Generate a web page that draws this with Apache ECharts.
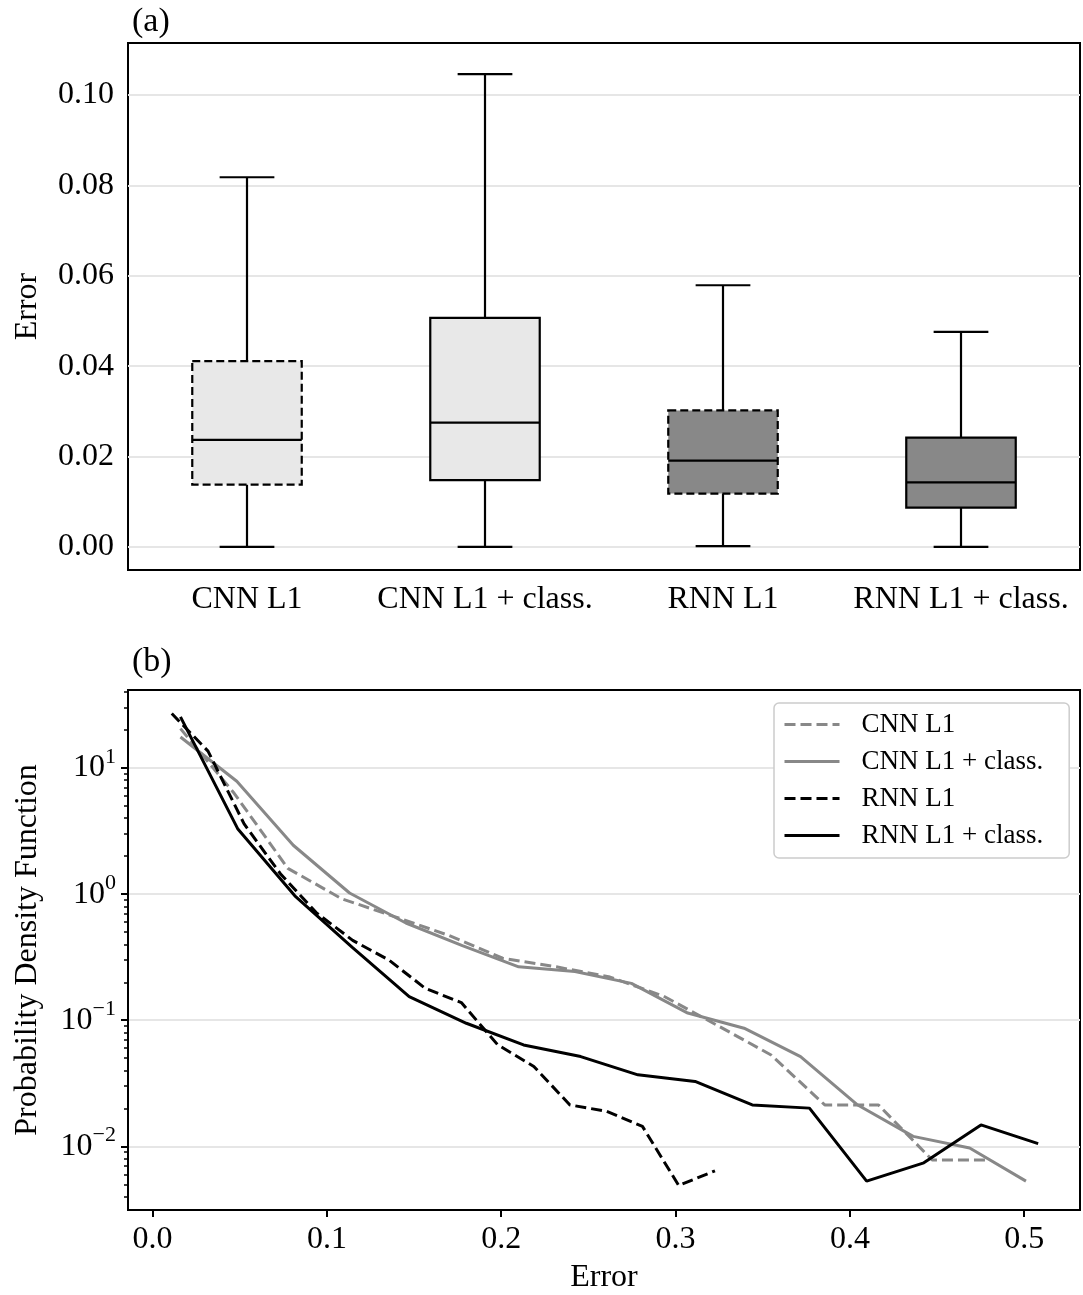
<!DOCTYPE html>
<html><head><meta charset="utf-8">
<script src="https://cdn.jsdelivr.net/npm/echarts@6/dist/echarts.min.js"></script>
<style>html,body{margin:0;padding:0;background:#fff}#c{width:1083px;height:1295px}</style>
</head><body><div id="c"></div>
<script>
// ---- panel (a): box plot statistics ----
const categories = ['CNN L1', 'CNN L1 + class.', 'RNN L1', 'RNN L1 + class.'];
const boxMin    = [0.0,    0.0,    0.0002, 0.0];
const boxQ1     = [0.0138, 0.0148, 0.0118, 0.0087];
const boxMedian = [0.0237, 0.0275, 0.0191, 0.0143];
const boxQ3     = [0.0411, 0.0507, 0.0302, 0.0242];
const boxMax    = [0.0818, 0.1046, 0.0579, 0.0476];
const topYTicks = [0, 0.02, 0.04, 0.06, 0.08, 0.10];

// ---- panel (b): probability density functions ----
const cnnX = [0.016, 0.0468, 0.0776, 0.1084, 0.1392, 0.17, 0.2008, 0.2316, 0.2624, 0.2932, 0.324, 0.3548, 0.3856, 0.4164, 0.4472, 0.478];
const cnnY = [20.5, 6.3, 1.6, 0.92, 0.66, 0.47, 0.31, 0.265, 0.22, 0.155, 0.091, 0.053, 0.0213, 0.0213, 0.0078, 0.0078];
const cnnClsX = [0.016, 0.0483, 0.0807, 0.113, 0.1453, 0.1777, 0.21, 0.2423, 0.2747, 0.307, 0.3393, 0.3717, 0.404, 0.4363, 0.4687, 0.501];
const cnnClsY = [17.6, 7.85, 2.44, 1.02, 0.59, 0.39, 0.265, 0.243, 0.196, 0.114, 0.0865, 0.0515, 0.0215, 0.012, 0.0097, 0.0053];
const rnnX = [0.011, 0.0318, 0.0525, 0.0733, 0.094, 0.1148, 0.1356, 0.1564, 0.1771, 0.1979, 0.2187, 0.2394, 0.2602, 0.281, 0.3018, 0.3226];
const rnnY = [27, 13.6, 3.6, 1.45, 0.71, 0.43, 0.30, 0.179, 0.138, 0.064, 0.043, 0.0213, 0.019, 0.0144, 0.0049, 0.0064];
const rnnClsX = [0.016, 0.0488, 0.0816, 0.1144, 0.1472, 0.18, 0.2128, 0.2456, 0.2784, 0.3112, 0.344, 0.3768, 0.4096, 0.4424, 0.4752, 0.508];
const rnnClsY = [25.4, 3.3, 0.97, 0.38, 0.154, 0.0946, 0.0637, 0.0515, 0.0369, 0.0327, 0.0213, 0.0201, 0.0053, 0.0074, 0.0148, 0.0105];
const seriesNames = ['CNN L1', 'CNN L1 + class.', 'RNN L1', 'RNN L1 + class.'];
const bottomXTicks = [0.0, 0.1, 0.2, 0.3, 0.4, 0.5];
const bottomYTicks = [0.01, 0.1, 1, 10];
const bottomYMinorTicks = [0.004, 0.005, 0.006, 0.007, 0.008, 0.009,
  0.02, 0.03, 0.04, 0.05, 0.06, 0.07, 0.08, 0.09,
  0.2, 0.3, 0.4, 0.5, 0.6, 0.7, 0.8, 0.9,
  2, 3, 4, 5, 6, 7, 8, 9, 20, 30, 40];

// ---- styling ----
const FF = "'Liberation Serif', 'DejaVu Serif', serif";
const GRAY = '#888888';
const boxFill = ['#e8e8e8', '#e8e8e8', '#888888', '#888888'];
const boxDashed = [true, false, true, false];

const pairs = (xs, ys) => xs.map((x, i) => [x, ys[i]]);
const boxData = categories.map((c, i) => [i, boxMin[i], boxQ1[i], boxMedian[i], boxQ3[i], boxMax[i]]);

const axisLineStyle = { onZero: false, lineStyle: { color: '#000', width: 2 } };
const tickStyle = { color: '#000', width: 2 };
const labelBase = { fontFamily: FF, fontSize: 32, color: '#000' };
const gridLine = { show: true, lineStyle: { color: '#e6e6e6', width: 2 } };

function supLabel(v) {
  const e = Math.round(Math.log10(v));
  const s = e < 0 ? '\u2212' + (-e) : String(e);
  return '{b|10}{s|' + s + '}';
}

const chart = echarts.init(document.getElementById('c'), null, { renderer: 'canvas' });
chart.setOption({
  animation: false,
  backgroundColor: '#fff',
  title: [
    { text: '(a)', left: 127, top: 0, textStyle: { fontFamily: FF, fontSize: 34, fontWeight: 'normal', color: '#000' } },
    { text: '(b)', left: 127, top: 640, textStyle: { fontFamily: FF, fontSize: 34, fontWeight: 'normal', color: '#000' } }
  ],
  grid: [
    { left: 128, right: 3, top: 43, height: 527, show: true, borderColor: '#000', borderWidth: 2, containLabel: false },
    { left: 128, right: 3, top: 690, height: 520, show: true, borderColor: '#000', borderWidth: 2, containLabel: false }
  ],
  legend: {
    data: seriesNames,
    orient: 'vertical',
    left: 774, top: 703,
    backgroundColor: '#fff',
    borderColor: '#cccccc', borderWidth: 1.5, borderRadius: 5,
    padding: [8, 26, 9, 9],
    itemWidth: 55, itemHeight: 14, itemGap: 10,
    itemStyle: { opacity: 0 },
    lineStyle: { width: 3 },
    textStyle: { fontFamily: FF, fontSize: 27, color: '#000', lineHeight: 27, padding: [0, 0, 0, 17] }
  },
  xAxis: [
    {
      gridIndex: 0, type: 'category', data: categories, boundaryGap: true,
      axisLine: axisLineStyle,
      axisTick: { alignWithLabel: true, interval: 0, length: 7, lineStyle: tickStyle },
      axisLabel: Object.assign({ margin: 14, interval: 0, hideOverlap: false }, labelBase),
      splitLine: { show: false }
    },
    {
      gridIndex: 1, type: 'value', min: -0.0141, max: 0.532,
      axisLine: axisLineStyle,
      axisTick: { length: 7, lineStyle: tickStyle, customValues: bottomXTicks },
      axisLabel: Object.assign({ margin: 14, customValues: bottomXTicks, formatter: v => v.toFixed(1) }, labelBase),
      splitLine: { show: false },
      name: 'Error', nameLocation: 'middle', nameGap: 52,
      nameTextStyle: { fontFamily: FF, fontSize: 32, color: '#000' }
    }
  ],
  yAxis: [
    {
      gridIndex: 0, type: 'value', min: -0.0051, max: 0.1115,
      axisLine: axisLineStyle,
      axisTick: { length: 7, lineStyle: tickStyle, customValues: topYTicks },
      axisLabel: Object.assign({ margin: 14, customValues: topYTicks, formatter: v => v.toFixed(2) }, labelBase),
      splitLine: gridLine,
      name: 'Error', nameLocation: 'middle', nameGap: 84,
      nameTextStyle: { fontFamily: FF, fontSize: 32, color: '#000' }
    },
    {
      gridIndex: 1, type: 'log', logBase: 10, min: 0.00313, max: 41.5,
      axisLine: axisLineStyle,
      axisTick: { length: 7, lineStyle: tickStyle, customValues: bottomYTicks },
      axisLabel: {
        margin: 12, customValues: bottomYTicks, formatter: supLabel,
        rich: {
          b: { fontFamily: FF, fontSize: 32, color: '#000' },
          s: { fontFamily: FF, fontSize: 22, color: '#000', padding: [0, 0, 22, 0] }
        }
      },
      splitLine: gridLine,
      name: 'Probability Density Function', nameLocation: 'middle', nameGap: 84,
      nameTextStyle: { fontFamily: FF, fontSize: 32, color: '#000' }
    },
    {
      gridIndex: 1, type: 'log', logBase: 10, min: 0.00313, max: 41.5, position: 'left',
      axisLine: { show: false, onZero: false },
      axisTick: { length: 4, lineStyle: { color: '#000', width: 1.5 }, customValues: bottomYMinorTicks },
      axisLabel: { show: false },
      splitLine: { show: false }
    }
  ],
  series: [
    {
      type: 'custom', xAxisIndex: 0, yAxisIndex: 0, data: boxData,
      encode: { x: 0, y: [1, 2, 3, 4, 5] },
      renderItem: function (params, api) {
        const i = params.dataIndex;
        const band = api.size([1, 0])[0];
        const bw = band * 0.46, cw = bw / 2;
        const cx = api.coord([api.value(0), api.value(3)])[0];
        const y = k => api.coord([api.value(0), api.value(k)])[1];
        const yMin = y(1), yQ1 = y(2), yMed = y(3), yQ3 = y(4), yMax = y(5);
        const ls = { stroke: '#000', lineWidth: 2.2, fill: null };
        return {
          type: 'group', children: [
            { type: 'line', shape: { x1: cx, y1: yQ1, x2: cx, y2: yMin }, style: ls },
            { type: 'line', shape: { x1: cx, y1: yQ3, x2: cx, y2: yMax }, style: ls },
            { type: 'line', shape: { x1: cx - cw / 2, y1: yMin, x2: cx + cw / 2, y2: yMin }, style: ls },
            { type: 'line', shape: { x1: cx - cw / 2, y1: yMax, x2: cx + cw / 2, y2: yMax }, style: ls },
            { type: 'rect', shape: { x: cx - bw / 2, y: yQ3, width: bw, height: yQ1 - yQ3 },
              style: { fill: boxFill[i], stroke: '#000', lineWidth: 2.2, lineDash: boxDashed[i] ? [8, 4] : null } },
            { type: 'line', shape: { x1: cx - bw / 2, y1: yMed, x2: cx + bw / 2, y2: yMed }, style: ls }
          ]
        };
      }
    },
    { name: seriesNames[0], type: 'line', xAxisIndex: 1, yAxisIndex: 1, data: pairs(cnnX, cnnY), symbol: 'none',
      color: GRAY, lineStyle: { color: GRAY, width: 3, type: [11, 5] } },
    { name: seriesNames[1], type: 'line', xAxisIndex: 1, yAxisIndex: 1, data: pairs(cnnClsX, cnnClsY), symbol: 'none',
      color: GRAY, lineStyle: { color: GRAY, width: 3, type: 'solid' } },
    { name: seriesNames[2], type: 'line', xAxisIndex: 1, yAxisIndex: 1, data: pairs(rnnX, rnnY), symbol: 'none',
      color: '#000', lineStyle: { color: '#000', width: 3, type: [11, 5] } },
    { name: seriesNames[3], type: 'line', xAxisIndex: 1, yAxisIndex: 1, data: pairs(rnnClsX, rnnClsY), symbol: 'none',
      color: '#000', lineStyle: { color: '#000', width: 3, type: 'solid' } }
  ]
});
</script></body></html>
